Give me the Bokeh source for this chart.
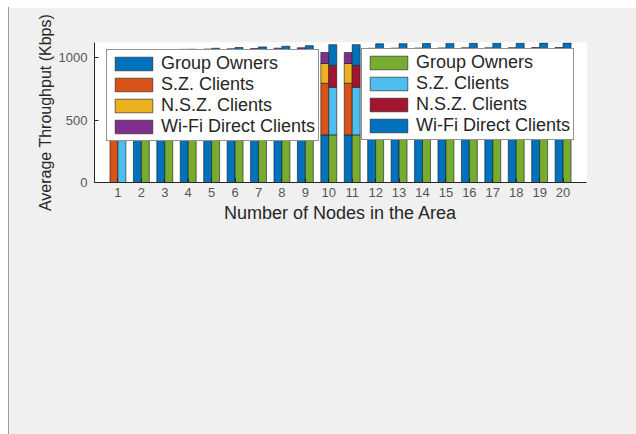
from bokeh.plotting import figure
from bokeh.models import ColumnDataSource, Legend, LegendItem, FixedTicker, Range1d, Spacer
from bokeh.transform import dodge
from bokeh.layouts import row, column
from bokeh.embed import file_html
from bokeh.resources import INLINE

# ---- data -------------------------------------------------------------
nodes = list(range(1, 21))
tick_labels = [str(n) for n in nodes]
series_names = ["Group Owners", "S.Z. Clients", "N.S.Z. Clients", "Wi-Fi Direct Clients"]

# scenario A (left bars)
go_a = [0, 520, 400, 395, 390, 388, 386, 384, 383, 381, 381, 380, 379, 378, 377, 376, 375, 374, 373, 372]
sz_a = [1000, 510, 420, 418, 416, 414, 412, 410, 408, 413, 413, 410, 409, 408, 407, 406, 405, 404, 403, 402]
nsz_a = [0, 0, 160, 160, 160, 160, 160, 160, 160, 158, 158, 160, 160, 160, 160, 160, 160, 160, 160, 160]
wfd_a = [0, 0, 82, 92, 102, 108, 114, 121, 127, 88, 88, 124, 127, 130, 133, 136, 138, 141, 144, 146]

# scenario B (right bars)
go_b = [0, 515, 400, 395, 392, 390, 388, 386, 384, 381, 381, 380, 379, 378, 377, 376, 375, 374, 373, 372]
sz_b = [1000, 515, 385, 384, 384, 383, 383, 382, 382, 381, 381, 381, 381, 380, 380, 380, 380, 379, 379, 379]
nsz_b = [0, 0, 175, 175, 175, 175, 175, 175, 175, 175, 175, 175, 175, 175, 175, 175, 175, 175, 175, 175]
wfd_b = [0, 0, 100, 112, 123, 132, 139, 147, 154, 166, 166, 174, 176, 179, 181, 183, 185, 187, 189, 190]

colors_a = ["#0072BD", "#D95319", "#EDB120", "#7E2F8E"]
colors_b = ["#77AC30", "#4DBEEE", "#A2142F", "#0072BD"]

src = ColumnDataSource(dict(x=nodes, go_a=go_a, sz_a=sz_a, nsz_a=nsz_a, wfd_a=wfd_a,
                            go_b=go_b, sz_b=sz_b, nsz_b=nsz_b, wfd_b=wfd_b))

FONT = "Liberation Sans"

p = figure(width=627, height=427, x_range=Range1d(0, 21), y_range=Range1d(0, 1120),
           output_backend="svg", toolbar_location=None,
           min_border_left=85, min_border_right=50, min_border_top=35, min_border_bottom=252)
p.border_fill_color = "#f0f0f0"
p.background_fill_color = "white"
p.outline_line_color = None
p.xgrid.visible = False
p.ygrid.visible = False

ra = p.vbar_stack(["go_a", "sz_a", "nsz_a", "wfd_a"], x=dodge("x", -0.17, range=p.x_range),
                  width=0.34, fill_color=colors_a, line_color="#1a1a1a", line_width=0.6, source=src)
rb = p.vbar_stack(["go_b", "sz_b", "nsz_b", "wfd_b"], x=dodge("x", 0.17, range=p.x_range),
                  width=0.34, fill_color=colors_b, line_color="#1a1a1a", line_width=0.6, source=src)

p.xaxis.ticker = FixedTicker(ticks=nodes)
p.xaxis.major_label_overrides = {n: t for n, t in zip(nodes, tick_labels)}
p.yaxis.ticker = FixedTicker(ticks=[0, 500, 1000])
for ax in (p.xaxis[0], p.yaxis[0]):
    ax.axis_line_color = "#262626"
    ax.major_tick_line_color = "#262626"
    ax.major_tick_in = 4
    ax.major_tick_out = 0
    ax.minor_tick_line_color = None
    ax.major_label_text_font = FONT
    ax.major_label_text_font_size = "13px"
    ax.major_label_text_color = "#555555"
    ax.axis_label_text_font = FONT
    ax.axis_label_text_font_style = "normal"
    ax.axis_label_text_color = "#262626"
p.xaxis.axis_label = "Number of Nodes in the Area"
p.xaxis.axis_label_text_font_size = "18px"
p.xaxis.major_label_standoff = 5
p.xaxis.axis_label_standoff = 3
p.yaxis.axis_label = "Average Throughput (Kbps)"
p.yaxis.axis_label_text_font_size = "16px"
p.yaxis.major_label_standoff = 7
p.yaxis.axis_label_standoff = 2


def make_legend(renderers, loc):
    items = [LegendItem(label=n, renderers=[r]) for n, r in zip(series_names, renderers)]
    lg = Legend(items=items, location=loc, orientation="vertical")
    lg.label_text_font = FONT
    lg.label_text_font_size = "18px"
    lg.label_text_color = "#262626"
    lg.glyph_width = 47
    lg.glyph_height = 17
    lg.label_height = 17
    lg.spacing = 0
    lg.padding = 3
    lg.margin = 0
    lg.label_standoff = 4
    lg.border_line_color = "#262626"
    lg.border_line_width = 0.8
    lg.background_fill_color = "white"
    lg.background_fill_alpha = 1.0
    return lg


p.add_layout(make_legend(ra, (12, 41)))
p.add_layout(make_legend(rb, (267, 42)))

layout = row(Spacer(width=8, height=434),
             column(Spacer(width=1, height=7),
                    Spacer(width=1, height=427, styles={"background-color": "#9a9a9a"})),
             column(Spacer(width=627, height=7), p))

open("out.html", "w").write(file_html(layout, INLINE))
